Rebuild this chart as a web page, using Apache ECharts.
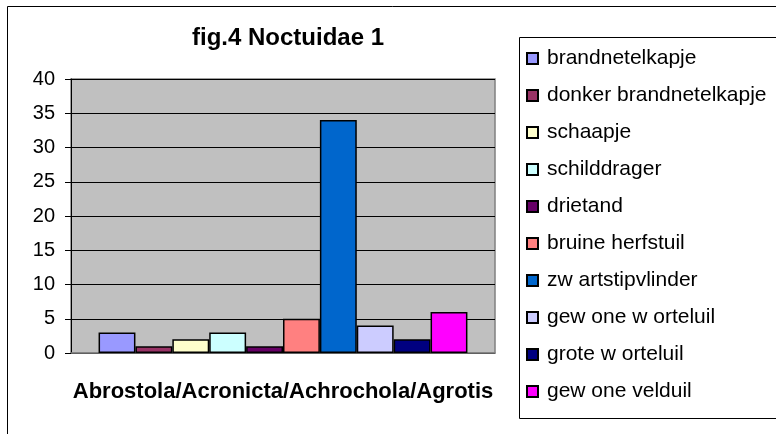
<html>
<head>
<meta charset="utf-8">
<script src="https://cdn.jsdelivr.net/npm/echarts@6/dist/echarts.min.js"></script>
</head>
<body style="margin:0">
<div id="main" style="width:776px;height:434px;"></div>
<script>
  // data
  var categories = ['Abrostola/Acronicta/Achrochola/Agrotis'];
  var seriesNames = ['brandnetelkapje', 'donker brandnetelkapje', 'schaapje', 'schilddrager', 'drietand',
    'bruine herfstuil', 'zw artstipvlinder', 'gew one w orteluil', 'grote w orteluil', 'gew one velduil'];
  var seriesValues = [3, 1, 2, 3, 1, 5, 34, 4, 2, 6];
  var seriesColors = ['#9999FF', '#993366', '#FFFFCC', '#CCFFFF', '#660066',
    '#FF8080', '#0066CC', '#CCCCFF', '#000080', '#FF00FF'];
  var yTicks = [0, 5, 10, 15, 20, 25, 30, 35, 40];

  var font = 'Arial, "Liberation Sans", sans-serif';
  var myChart = echarts.init(document.getElementById('main'));

  var series = seriesNames.map(function (name, i) {
    return {
      name: name,
      type: 'bar',
      data: [seriesValues[i]],
      barGap: '0%',
      barCategoryGap: '13%',
      itemStyle: { color: seriesColors[i], borderColor: '#000', borderWidth: 1.5 },
      emphasis: { disabled: true }
    };
  });

  myChart.setOption({
    animation: false,
    backgroundColor: '#fff',
    title: {
      text: 'fig.4 Noctuidae 1',
      left: 288, top: 26, textAlign: 'center', padding: 0,
      textStyle: { fontFamily: font, fontSize: 24, fontWeight: 'bold', color: '#000' }
    },
    graphic: [
      // outer chart border
      { type: 'rect', shape: { x: 7.5, y: 6.5, width: 800, height: 500 },
        style: { fill: null, stroke: '#000', lineWidth: 1 }, z: 100 },
      // legend border
      { type: 'rect', shape: { x: 519.5, y: 37.5, width: 300, height: 381 },
        style: { fill: null, stroke: '#000', lineWidth: 1 }, z: 100 }
    ],
    legend: {
      orient: 'vertical',
      left: 526, top: 48,
      padding: 0,
      itemWidth: 11, itemHeight: 11,
      itemGap: 16,
      icon: 'rect',
      textStyle: { fontFamily: font, fontSize: 21, lineHeight: 21, color: '#000', padding: [0, 0, 0, 4] },
      data: seriesNames
    },
    grid: {
      left: 71, right: 281, top: 79, bottom: 81,
      show: true, backgroundColor: '#C0C0C0', borderColor: '#808080', borderWidth: 1.5
    },
    xAxis: {
      type: 'category',
      data: categories,
      axisLine: { lineStyle: { color: '#808080', width: 1.5 } },
      axisTick: { show: false },
      axisLabel: { margin: 28, fontFamily: font, fontSize: 22, fontWeight: 'bold', color: '#000' }
    },
    yAxis: {
      type: 'value',
      min: yTicks[0], max: yTicks[yTicks.length - 1], interval: yTicks[1] - yTicks[0],
      axisLine: { show: true, lineStyle: { color: '#000', width: 1 } },
      axisTick: { show: true, length: 6, lineStyle: { color: '#000' } },
      axisLabel: { margin: 16, fontFamily: font, fontSize: 20, color: '#000' },
      splitLine: { lineStyle: { color: '#000', width: 1 } }
    },
    series: series
  });
</script>
</body>
</html>
